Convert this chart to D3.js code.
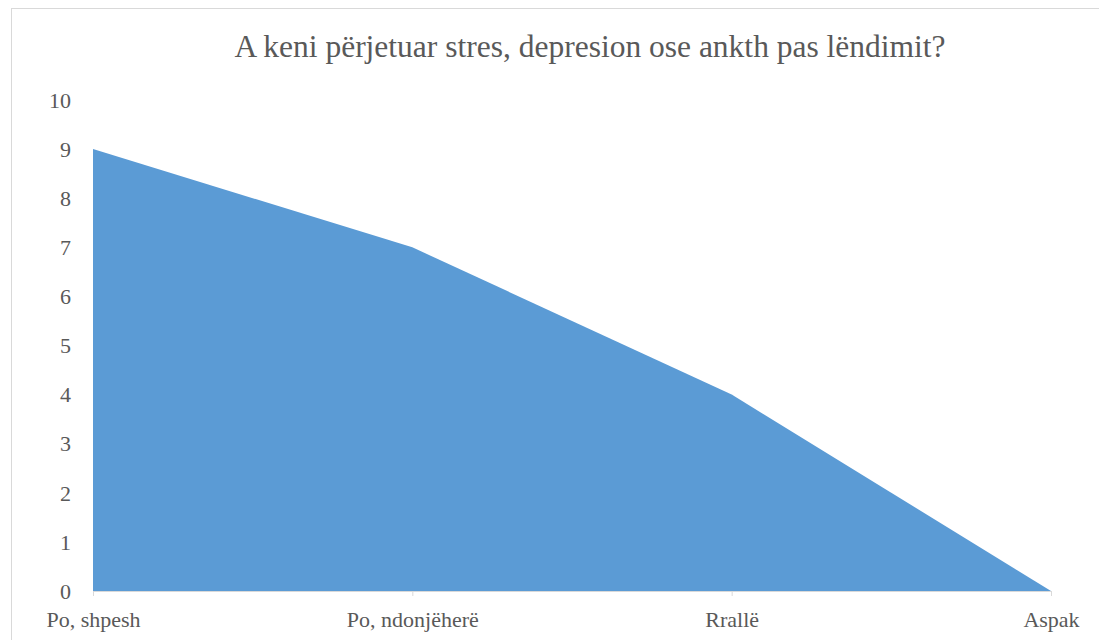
<!DOCTYPE html>
<html>
<head>
<meta charset="utf-8">
<script src="https://cdn.jsdelivr.net/npm/d3@7"></script>
<style>
  body { margin: 0; background: #fff; }
  svg text { font-family: "Liberation Serif", "DejaVu Serif", "Times New Roman", serif; fill: #595959; }
</style>
</head>
<body>
<div id="chart"></div>
<script>
// data
const categories = ["Po, shpesh", "Po, ndonjëherë", "Rrallë", "Aspak"];
const values = [9, 7, 4, 0];
const yTicks = [0, 1, 2, 3, 4, 5, 6, 7, 8, 9, 10];
const title = "A keni përjetuar stres, depresion ose ankth pas lëndimit?";

const W = 1099, H = 640;
const margin = { top: 100, right: 48, bottom: 49, left: 93 };
const FONT = "'Liberation Serif', 'DejaVu Serif', 'Times New Roman', serif";

const svg = d3.select("#chart").append("svg")
    .attr("width", W)
    .attr("height", H);

// chart border
svg.append("rect")
    .attr("x", 11.5).attr("y", 8.5)
    .attr("width", 1100).attr("height", 640)
    .attr("fill", "none")
    .attr("stroke", "#d9d9d9");

svg.append("text")
    .attr("x", 590).attr("y", 57)
    .attr("text-anchor", "middle")
    .style("font-family", FONT)
    .style("font-size", "31.5px")
    .text(title);

const x = d3.scalePoint()
    .domain(categories)
    .range([margin.left, W - margin.right]);

const y = d3.scaleLinear()
    .domain([0, 10])
    .range([H - margin.bottom, margin.top]);

// area
const area = d3.area()
    .x((d, i) => x(categories[i]))
    .y0(y(0))
    .y1(d => y(d));

svg.append("path")
    .datum(values)
    .attr("d", area)
    .attr("fill", "#5b9bd5");

// y axis labels (no line)
svg.append("g")
    .selectAll("text")
    .data(yTicks)
    .join("text")
    .attr("x", 71)
    .attr("y", d => y(d))
    .attr("dy", "0.35em")
    .attr("text-anchor", "end")
    .style("font-family", FONT)
    .style("font-size", "22px")
    .text(d => d);

// x axis
const xAxis = svg.append("g")
    .attr("transform", "translate(0," + y(0) + ")")
    .call(d3.axisBottom(x).tickSize(5).tickPadding(15).tickSizeOuter(0));
xAxis.select(".domain").attr("stroke", "#d9d9d9");
xAxis.selectAll(".tick line").attr("stroke", "#d9d9d9");
xAxis.selectAll(".tick text")
    .style("font-size", "22px")
    .style("font-family", FONT)
    .attr("fill", "#595959");
</script>
</body>
</html>
